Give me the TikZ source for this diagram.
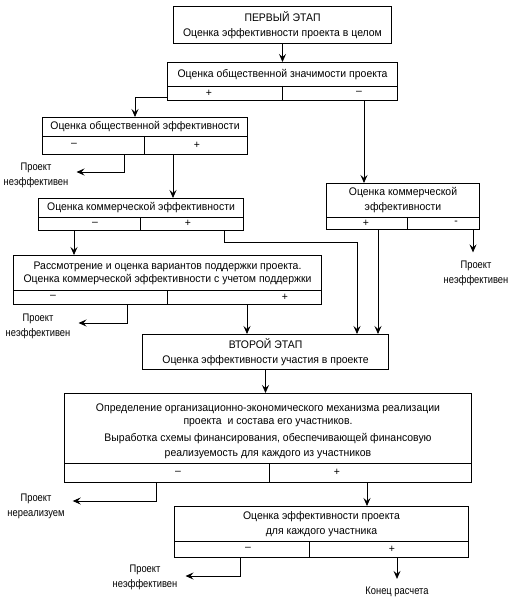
\documentclass[tikz,border=0pt]{standalone}
\usepackage{fontspec}
\setmainfont{Liberation Sans}[FakeStretch=0.95]
\usetikzlibrary{arrows.meta}
\newcommand{\fs}{\fontsize{11}{15}\selectfont}
\tikzset{
    box/.style={draw, line width=1pt, anchor=north west, inner sep=0pt, align=center, font=\fs},
    row/.style={draw, line width=1pt, anchor=north west, inner sep=0pt},
    frame/.style={line width=1pt},
    sign/.style={font=\fs, inner sep=0pt},
    note/.style={font=\fs\addfontfeature{FakeStretch=0.85}, align=center, inner xsep=8pt, inner ysep=8pt},
    arr/.style={line width=0.8pt, -{Stealth[length=8pt,width=7pt,inset=3pt]}}
}
\begin{document}
\begin{tikzpicture}[x=1pt, y=-1pt]
			\useasboundingbox (0,0) rectangle (512,601);
			% first stage
			\node[box, minimum width=218pt, minimum height=37pt] (b1) at (173,6) {ПЕРВЫЙ ЭТАП\\Оценка эффективности проекта в целом};
			\node[box, minimum width=230pt, minimum height=24pt] (b2) at (167,62) {Оценка общественной значимости проекта};
			\node[row, minimum width=230pt, minimum height=14pt] (b2r) at (167,86) {};
			\node[box, minimum width=205pt, minimum height=19pt] (b3) at (42,117) {Оценка общественной эффективности};
			\node[row, minimum width=205pt, minimum height=18pt] (b3r) at (42,136) {};
			\node[box, minimum width=153pt, minimum height=34pt] (b4) at (326,183) {Оценка коммерческой\\эффективности};
			\node[row, minimum width=153pt, minimum height=12pt] (b4r) at (326,217) {};
			\node[box, minimum width=205pt, minimum height=19pt] (b5) at (38,198) {Оценка коммерческой эффективности};
			\node[row, minimum width=205pt, minimum height=13pt] (b5r) at (38,217) {};
			\node[box, minimum width=308pt, minimum height=35pt] (b6) at (13,255) {Рассмотрение и оценка вариантов поддержки проекта.\\[-2pt]Оценка коммерческой эффективности с учетом поддержки};
			\node[row, minimum width=308pt, minimum height=14pt] (b6r) at (13,290) {};
			% second stage
			\node[box, minimum width=246pt, minimum height=35pt] (b7) at (142,334) {ВТОРОЙ ЭТАП\\Оценка эффективности участия в проекте};
			\node[box, minimum width=407pt, minimum height=70pt] (b8) at (64,393) {\rule{0pt}{14pt}Определение организационно-экономического механизма реализации\\[-2pt]проекта~~и состава его участников.\\[2pt]Выработка схемы финансирования, обеспечивающей финансовую\\реализуемость для каждого из участников};
			\node[row, minimum width=407pt, minimum height=19pt] (b8r) at (64,463) {};
			\node[box, minimum width=294pt, minimum height=35pt] (b9) at (174,506) {Оценка эффективности проекта\\для каждого участника};
			\node[row, minimum width=294pt, minimum height=16pt] (b9r) at (174,541) {};
			% dividers
			\draw[frame] ([xshift=115pt]b2r.north west) -- ([xshift=115pt]b2r.south west);
			\draw[frame] ([xshift=102pt]b3r.north west) -- ([xshift=102pt]b3r.south west);
			\draw[frame] ([xshift=81pt]b4r.north west) -- ([xshift=81pt]b4r.south west);
			\draw[frame] ([xshift=102pt]b5r.north west) -- ([xshift=102pt]b5r.south west);
			\draw[frame] ([xshift=154pt]b6r.north west) -- ([xshift=154pt]b6r.south west);
			\draw[frame] ([xshift=205pt]b8r.north west) -- ([xshift=205pt]b8r.south west);
			\draw[frame] ([xshift=135pt]b9r.north west) -- ([xshift=135pt]b9r.south west);
			% signs
			\node[sign] (s2p) at (209,93) {+};
			\node[sign] (s2m) at (359,93) {--};
			\node[sign] (s3m) at (74,145) {--};
			\node[sign] (s3p) at (197,145) {+};
			\node[sign] (s4p) at (366,223) {+};
			\node[sign] (s4m) at (456,223) {-};
			\node[sign] (s5m) at (95,223.5) {--};
			\node[sign] (s5p) at (188,223.5) {+};
			\node[sign] (s6m) at (53,297) {--};
			\node[sign] (s6p) at (285,297) {+};
			\node[sign] (s8m) at (178,472.5) {--};
			\node[sign] (s8p) at (337,472.5) {+};
			\node[sign] (s9m) at (248,549) {--};
			\node[sign] (s9p) at (392,549) {+};
			% outcomes
			\node[note] (n1) at (36,175) {Проект\\неэффективен};
			\node[note] (n2) at (476,273) {Проект\\неэффективен};
			\node[note] (n3) at (38,326) {Проект\\неэффективен};
			\node[note] (n4) at (36,506) {Проект\\нереализуем};
			\node[note] (n5) at (145,577) {Проект\\неэффективен};
			\node[note] (n6) at (397,592) {Конец расчета};
			% exits
			\coordinate (e2p) at ([yshift=-4pt]b2r.west);
			\coordinate (e2m) at ([xshift=197pt]b2r.south west);
			\coordinate (e3m) at ([xshift=82pt]b3r.south west);
			\coordinate (e3p) at ([xshift=131pt]b3r.south west);
			\coordinate (e4p) at ([xshift=52pt]b4r.south west);
			\coordinate (e4m) at ([xshift=147pt]b4r.south west);
			\coordinate (e5m) at ([xshift=36pt]b5r.south west);
			\coordinate (e5p) at ([xshift=186pt]b5r.south west);
			\coordinate (e6m) at ([xshift=114pt]b6r.south west);
			\coordinate (e6p) at ([xshift=234pt]b6r.south west);
			\coordinate (e8m) at ([xshift=92pt]b8r.south west);
			\coordinate (e8p) at ([xshift=303pt]b8r.south west);
			\coordinate (e9m) at ([xshift=66pt]b9r.south west);
			\coordinate (e9p) at ([xshift=223pt]b9r.south west);
			\coordinate (j3) at ([xshift=93pt]b3.north west);
			\coordinate (j7) at ([xshift=215pt]b7.north west);
			% connectors
			\draw[arr] (b1.south) -- (b2.north);
			\draw[arr] (e2p) -| (j3);
			\draw[arr] (e2m) -- (e2m |- b4.north);
			\draw[arr] (e3m) |- ([yshift=3pt]n1.east);
			\draw[arr] (e3p) -- (e3p |- b5.north);
			\draw[arr] (e5m) -- (e5m |- b6.north);
			\draw[arr] (e5p) -- ++(0,11) -| (j7);
			\draw[arr] (e4p) -- (e4p |- b7.north);
			\draw[arr] (e4m) -- (e4m |- n2.north);
			\draw[arr] (e6m) |- ([yshift=3pt]n3.east);
			\draw[arr] (e6p) -- (e6p |- b7.north);
			\draw[arr] (b7.south) -- (b7.south |- b8.north);
			\draw[arr] (e8m) |- ([yshift=5pt]n4.east);
			\draw[arr] (e8p) -- (e8p |- b9.north);
			\draw[arr] (e9m) |- ([yshift=1pt]n5.east);
			\draw[arr] (e9p) -- (e9p |- n6.north);
		\end{tikzpicture}
\end{document}
